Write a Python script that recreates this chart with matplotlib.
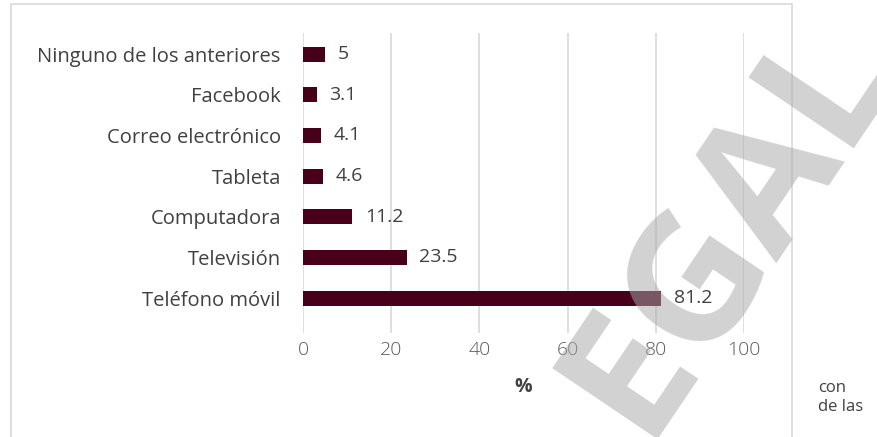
import matplotlib
matplotlib.use("Agg")
import matplotlib.pyplot as plt
from matplotlib.patches import Rectangle

categories = ["Teléfono móvil", "Televisión", "Computadora", "Tableta",
              "Correo electrónico", "Facebook", "Ninguno de los anteriores"]
values = [81.2, 23.5, 11.2, 4.6, 4.1, 3.1, 5]
value_labels = ["81.2", "23.5", "11.2", "4.6", "4.1", "3.1", "5"]
xticks = [0, 20, 40, 60, 80, 100]

plt.rcParams['font.family'] = ['Open Sans', 'DejaVu Sans']
TXT = '#404040'
TICK = '#595959'
BAR = '#48001a'

fig = plt.figure(figsize=(8.77, 4.37), dpi=100)
W, H = 877, 437

def fx(px): return px / W
def fy(py): return 1 - py / H

# chart frame
fig.patches.append(Rectangle((fx(11), fy(445)), fx(792) - fx(11), fy(4) - fy(445),
                             transform=fig.transFigure, fill=False,
                             edgecolor='#d9d9d9', linewidth=1.2))

ax = fig.add_axes([fx(303), fy(333), fx(744) - fx(303), fy(33) - fy(333)])
y = list(range(len(categories)))
ax.barh(y, values, height=0.37, color=BAR, zorder=3)
ax.set_xlim(0, 100)
ax.set_ylim(-0.86, 6.52)
ax.set_xticks(xticks)
ax.set_xticklabels([str(t) for t in xticks], fontsize=14, color=TICK, fontweight='light')
ax.set_yticks(y)
ax.set_yticklabels(categories, fontsize=14.5, color=TXT)
ax.tick_params(axis='both', length=0)
ax.tick_params(axis='y', pad=16)
ax.tick_params(axis='x', pad=6)
for s in ax.spines.values():
    s.set_visible(False)
ax.grid(axis='x', color='#d9d9d9', linewidth=1.2, zorder=0)
ax.set_axisbelow(True)
for yi, v, lab in zip(y, values, value_labels):
    ax.annotate(lab, (v, yi), xytext=(9, 0), textcoords='offset points',
                va='center', ha='left', fontsize=14, color=TXT)
ax.set_xlabel('%', fontsize=14, color=TXT, fontweight='bold', labelpad=13)

fig.text(fx(818), fy(388), 'con', fontsize=12, color=TXT, va='center', ha='left')
fig.text(fx(818), fy(407), 'de las', fontsize=12, color=TXT, va='center', ha='left')

# watermark
fig.text(fx(730), fy(226), 'EGAL', fontsize=128, fontweight='bold', color='#a8a8a8',
         alpha=0.52, rotation=56, ha='center', va='center', zorder=10)

fig.savefig('out.png', dpi=100)
